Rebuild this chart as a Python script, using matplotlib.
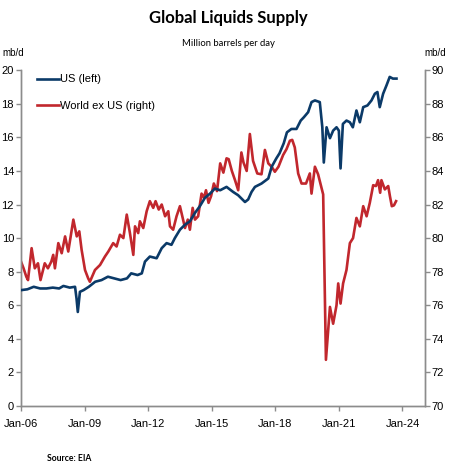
import matplotlib
matplotlib.use("Agg")
import matplotlib.pyplot as plt

# Data (decimal years, mb/d)
us_dates = [2006.0, 2006.3, 2006.6, 2006.9, 2007.2, 2007.5, 2007.8, 2008.0, 2008.3, 2008.55,
            2008.62, 2008.68, 2008.78, 2008.95, 2009.2, 2009.5, 2009.8, 2010.1, 2010.4, 2010.7,
            2011.0, 2011.2, 2011.5, 2011.7, 2011.85, 2012.08, 2012.4, 2012.64, 2012.87, 2013.1,
            2013.26, 2013.5, 2013.74, 2013.97, 2014.21, 2014.44, 2014.68, 2014.92, 2015.15, 2015.4,
            2015.7, 2016.01, 2016.25, 2016.57, 2016.72, 2016.88, 2017.04, 2017.35, 2017.67, 2017.83,
            2018.05, 2018.2, 2018.4, 2018.55, 2018.76, 2019.0, 2019.2, 2019.35, 2019.55, 2019.71,
            2019.87, 2020.1, 2020.22, 2020.29, 2020.42, 2020.58, 2020.73, 2020.89, 2021.0, 2021.08,
            2021.19, 2021.36, 2021.52, 2021.66, 2021.83, 2021.99, 2022.15, 2022.35, 2022.54, 2022.7,
            2022.82, 2022.93, 2023.09, 2023.25, 2023.4, 2023.55, 2023.72]
us_values = [6.9, 6.95, 7.1, 7.0, 7.0, 7.05, 7.0, 7.15, 7.05, 7.1,
             6.4, 5.6, 6.8, 6.9, 7.1, 7.4, 7.5, 7.7, 7.6, 7.5,
             7.6, 7.9, 7.8, 7.9, 8.6, 8.9, 8.8, 9.4, 9.7, 9.6,
             10.0, 10.5, 10.8, 11.0, 11.5, 11.9, 12.4, 12.65, 12.95, 12.85,
             13.05, 12.75, 12.55, 12.15, 12.3, 12.75, 13.05, 13.25, 13.55, 14.25,
             14.75, 15.05, 15.65, 16.3, 16.5, 16.5, 17.0, 17.2, 17.5, 18.1,
             18.2, 18.1, 16.6, 14.5, 16.6, 15.95, 16.4, 16.6, 16.4, 14.15,
             16.8, 17.0, 16.9, 16.6, 17.6, 16.9, 17.8, 17.9, 18.2, 18.6,
             18.7, 17.8, 18.6, 19.1, 19.6, 19.5, 19.5]

world_dates = [2006.0, 2006.12, 2006.25, 2006.33, 2006.5, 2006.65, 2006.8, 2006.92, 2007.12, 2007.27,
               2007.43, 2007.52, 2007.6, 2007.76, 2007.92, 2008.08, 2008.23, 2008.47, 2008.63, 2008.75,
               2008.86, 2009.02, 2009.17, 2009.25, 2009.49, 2009.73, 2009.96, 2010.12, 2010.35, 2010.51,
               2010.67, 2010.83, 2010.99, 2011.14, 2011.3, 2011.38, 2011.53, 2011.61, 2011.77, 2011.93,
               2012.08, 2012.24, 2012.35, 2012.5, 2012.64, 2012.8, 2012.95, 2013.03, 2013.18, 2013.34,
               2013.5, 2013.63, 2013.74, 2013.87, 2013.97, 2014.1, 2014.21, 2014.36, 2014.52, 2014.63,
               2014.73, 2014.85, 2014.97, 2015.1, 2015.25, 2015.4, 2015.55, 2015.7, 2015.8, 2015.95,
               2016.1, 2016.25, 2016.4, 2016.5, 2016.65, 2016.8, 2016.95, 2017.15, 2017.35, 2017.51,
               2017.67, 2017.83, 2017.98, 2018.15, 2018.37, 2018.53, 2018.69, 2018.8, 2018.92, 2019.08,
               2019.24, 2019.45, 2019.63, 2019.71, 2019.87, 2020.02, 2020.18, 2020.26, 2020.39, 2020.58,
               2020.73, 2020.89, 2020.97, 2021.08, 2021.2, 2021.36, 2021.52, 2021.67, 2021.83, 2021.99,
               2022.15, 2022.31, 2022.46, 2022.62, 2022.75, 2022.85, 2022.95, 2023.01, 2023.17, 2023.33,
               2023.41, 2023.5, 2023.6, 2023.7]
world_values = [78.6, 78.2, 77.7, 77.5, 79.4, 78.2, 78.5, 77.5, 78.5, 78.2,
                78.6, 79.0, 78.2, 79.7, 79.1, 80.1, 79.2, 81.1, 80.1, 80.4,
                79.3, 78.1, 77.6, 77.4, 78.1, 78.4, 78.9, 79.2, 79.7, 79.5,
                80.2, 80.0, 81.4, 80.3, 79.0, 80.7, 80.3, 81.0, 80.6, 81.6,
                82.2, 81.8, 82.2, 81.7, 82.0, 81.3, 81.6, 80.7, 80.5, 81.3,
                81.9, 81.2, 80.6, 81.1, 80.5, 81.8, 81.1, 81.3, 82.65, 82.4,
                82.85, 82.1, 82.5, 83.25, 82.8, 84.45, 83.9, 84.75, 84.7, 84.0,
                83.45, 82.85, 85.1, 84.5, 84.0, 86.2, 84.6, 83.85, 83.8, 85.25,
                84.45, 84.25, 83.95, 84.25, 84.95, 85.3, 85.8, 85.85, 85.4, 83.85,
                83.25, 83.25, 83.85, 82.65, 84.25, 83.8, 83.0, 82.6, 72.75, 75.9,
                74.9, 76.0, 77.3, 76.1, 77.3, 78.1, 79.7, 80.0, 81.2, 80.7,
                81.9, 81.3, 82.1, 83.15, 83.1, 83.45, 82.7, 83.45, 82.9, 83.1,
                82.5, 81.9, 81.95, 82.2]

x_ticks = [2006, 2009, 2012, 2015, 2018, 2021, 2024]
x_labels = ["Jan-06", "Jan-09", "Jan-12", "Jan-15", "Jan-18", "Jan-21", "Jan-24"]

plt.rcParams["font.family"] = ["Liberation Sans", "DejaVu Sans"]

blue = "#0b3a68"
red = "#c1272d"
spine_col = "#8c8c8c"

fig = plt.figure(figsize=(4.52, 4.68), dpi=100)
ax = fig.add_axes([0.0465, 0.1325, 0.8935, 0.7175])
ax2 = ax.twinx()

l1, = ax.plot(us_dates, us_values, color=blue, lw=1.9, label="US (left)", zorder=3)
l2, = ax2.plot(world_dates, world_values, color=red, lw=1.9, label="World ex US (right)", zorder=2)
ax.set_zorder(ax2.get_zorder() + 1)
ax.patch.set_visible(False)

ax.set_xlim(2006, 2025.06)
ax.set_ylim(0, 20)
ax2.set_ylim(70, 90)
ax.set_yticks(range(0, 21, 2))
ax2.set_yticks(range(70, 91, 2))
ax.set_xticks(x_ticks)
ax.set_xticklabels(x_labels)

for a in (ax, ax2):
    a.spines["top"].set_visible(False)
    for s in ("left", "right", "bottom"):
        a.spines[s].set_color(spine_col)
        a.spines[s].set_linewidth(1.0)
    a.tick_params(colors=spine_col, labelcolor="black", labelsize=8, length=3.5, width=1.0)
ax.tick_params(axis="y", pad=1.5)
ax2.tick_params(axis="y", pad=1.5)
ax.tick_params(axis="x", pad=6)

ax.legend(handles=[l1, l2], loc="upper left", bbox_to_anchor=(0.016, 1.017), frameon=False,
          fontsize=8, handlelength=1.9, handletextpad=0.1, labelspacing=1.45)

fig.text(0.505, 0.962, "Global Liquids Supply", ha="center", va="center",
         fontsize=12, fontweight="bold", family=["Lato", "DejaVu Sans"])
fig.text(0.505, 0.908, "Million barrels per day", ha="center", va="center", fontsize=6.8,
         family=["Lato", "DejaVu Sans"])
fig.text(0.006, 0.886, "mb/d", ha="left", va="center", fontsize=7)
fig.text(0.94, 0.886, "mb/d", ha="left", va="center", fontsize=7)
fig.text(0.104, 0.021, "Source: EIA", ha="left", va="center", fontsize=6.2, fontweight="bold",
         family=["Lato", "DejaVu Sans"])

fig.savefig("out.png", dpi=100)
